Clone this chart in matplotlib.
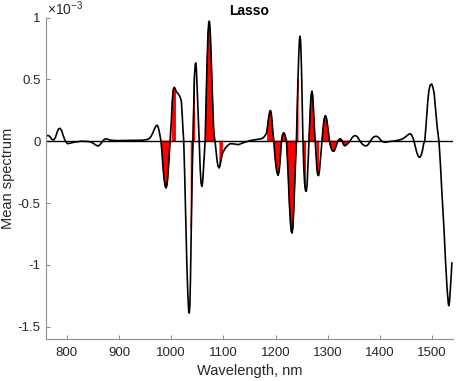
import numpy as np
import matplotlib
matplotlib.use('Agg')
import matplotlib.pyplot as plt

# wavelengths (nm) and mean spectrum (x 1e-3)
wavelength = [762, 765, 768, 771, 775, 778, 781, 784, 787, 790, 793, 797, 800, 802, 807, 812,
              820, 827, 838, 845, 850, 855, 860, 864, 867, 870, 874, 878, 882, 890, 897, 915,
              935, 945, 952, 957, 960, 964, 968, 971, 973, 975, 977, 979, 980.5, 982.5, 984.5,
              986.5, 988.5, 990, 991.5, 993, 994.5, 996, 998, 1000, 1002, 1004, 1006, 1008,
              1010, 1013, 1015.5, 1018, 1019.5, 1021, 1022.5, 1024, 1026, 1028, 1030, 1032,
              1033.5, 1034.6, 1035.8, 1037, 1038.5, 1040, 1041.6, 1043, 1044.5, 1046, 1047,
              1048.3, 1050, 1052, 1053.7, 1055.5, 1057.3, 1058.8, 1060.3, 1062, 1063.5, 1065,
              1066.5, 1068.5, 1070.5, 1072, 1072.7, 1073.5, 1075, 1077, 1079, 1081, 1082.5,
              1084, 1086, 1088, 1090, 1091.8, 1093.5, 1095.5, 1098, 1101, 1104, 1108, 1113,
              1120, 1128.6, 1140, 1151, 1165, 1173, 1177, 1180, 1182.8, 1185, 1187, 1189,
              1190.4, 1192, 1193.5, 1195, 1196.7, 1198.5, 1200.5, 1202.5, 1205, 1207, 1208.5,
              1210, 1211.4, 1213, 1214.8, 1216.4, 1218, 1219.5, 1221, 1222.5, 1224.5, 1226.5,
              1228.5, 1230.2, 1231.7, 1233.2, 1235, 1236.7, 1238.5, 1240, 1241.5, 1243, 1244.7,
              1246, 1247, 1248.2, 1249.7, 1251.2, 1252.6, 1254, 1255.7, 1257.5, 1259, 1260.5,
              1262, 1263, 1264, 1265.5, 1267, 1268.5, 1269.8, 1271.2, 1272.7, 1274.3, 1276,
              1277.5, 1279.2, 1280.8, 1282.5, 1284.2, 1286, 1287.5, 1289, 1290.8, 1292.5,
              1294.3, 1296, 1298, 1300, 1301.8, 1303.5, 1305.5, 1307.5, 1309.5, 1311.7, 1314,
              1316, 1318, 1320, 1322, 1324.5, 1326.5, 1328, 1330, 1332, 1334.5, 1337, 1341.7,
              1344, 1347, 1350, 1354, 1357, 1360, 1363, 1366, 1370, 1374.5, 1378, 1381, 1384,
              1387, 1390, 1393.8, 1397, 1400, 1403, 1406, 1410, 1414, 1418, 1424, 1432, 1440,
              1445, 1450, 1454, 1458, 1461, 1463.5, 1465.5, 1468, 1471, 1474, 1477, 1479.5,
              1482, 1484, 1486, 1488, 1490, 1492, 1494, 1496.5, 1499.4, 1502, 1504, 1507,
              1510, 1513.3, 1516, 1519, 1523, 1526, 1529, 1531, 1532, 1533.5, 1535, 1537, 1538]
mean_spectrum = [0.045, 0.045, 0.035, 0.015, 0.01, 0.03, 0.07, 0.1, 0.104, 0.085, 0.045, 0.0,
                 -0.015, -0.02, -0.015, -0.01, -0.005, 0.0, -0.002, -0.005, -0.015, -0.03,
                 -0.04, -0.025, -0.01, 0.008, 0.02, 0.016, 0.01, 0.006, 0.005, 0.006, 0.007,
                 0.008, 0.012, 0.018, 0.03, 0.06, 0.1, 0.125, 0.129, 0.115, 0.08, 0.035, 0.0,
                 -0.1, -0.22, -0.31, -0.365, -0.378, -0.36, -0.31, -0.23, -0.13, 0.0, 0.15,
                 0.32, 0.42, 0.436, 0.42, 0.40, 0.385, 0.37, 0.345, 0.32, 0.22, 0.1, 0.0, -0.3,
                 -0.65, -1.0, -1.25, -1.37, -1.39, -1.33, -1.1, -0.7, -0.3, 0.0, 0.3, 0.52,
                 0.62, 0.633, 0.58, 0.4, 0.18, 0.0, -0.22, -0.34, -0.365, -0.33, -0.22, -0.11,
                 0.0, 0.25, 0.6, 0.87, 0.96, 0.97, 0.96, 0.87, 0.62, 0.35, 0.13, 0.04, 0.0,
                 -0.08, -0.16, -0.205, -0.216, -0.2, -0.15, -0.1, -0.075, -0.055, -0.035,
                 -0.02, -0.022, -0.028, -0.01, 0.005, 0.015, 0.02, 0.03, 0.045, 0.067, 0.13,
                 0.2, 0.24, 0.248, 0.22, 0.15, 0.07, 0.0, -0.1, -0.19, -0.25, -0.276, -0.24,
                 -0.17, -0.08, 0.0, 0.045, 0.065, 0.067, 0.05, 0.025, 0.0, -0.12, -0.3, -0.5,
                 -0.65, -0.73, -0.742, -0.7, -0.55, -0.35, -0.15, 0.0, 0.25, 0.5, 0.72, 0.83,
                 0.849, 0.8, 0.6, 0.3, 0.0, -0.2, -0.34, -0.4, -0.405, -0.35, -0.22, -0.12,
                 0.0, 0.15, 0.3, 0.38, 0.404, 0.37, 0.26, 0.12, 0.0, -0.11, -0.22, -0.27,
                 -0.278, -0.24, -0.15, -0.07, 0.0, 0.09, 0.16, 0.2, 0.207, 0.18, 0.12, 0.06,
                 0.0, -0.04, -0.068, -0.08, -0.082, -0.065, -0.04, -0.015, 0.005, 0.015, 0.019,
                 0.012, 0.0, -0.025, -0.036, -0.035, -0.025, -0.005, 0.01, 0.03, 0.042, 0.045,
                 0.035, 0.015, -0.005, -0.022, -0.035, -0.038, -0.025, -0.005, 0.015, 0.03,
                 0.038, 0.04, 0.032, 0.018, 0.004, -0.005, -0.009, -0.006, -0.003, 0.0, 0.005,
                 0.013, 0.022, 0.038, 0.052, 0.061, 0.05, 0.025, 0.0, -0.045, -0.095, -0.125,
                 -0.13, -0.11, -0.07, -0.02, 0.0, 0.1, 0.22, 0.33, 0.41, 0.455, 0.463, 0.43,
                 0.39, 0.25, 0.11, 0.0, -0.18, -0.42, -0.715, -0.98, -1.2, -1.3, -1.33, -1.3,
                 -1.2, -1.07, -0.985]

# wavelength bands picked by the lasso (start, end) in nm
selected_bands = [(980.5, 998), (1002, 1008), (1038.5, 1041.6), (1041.6, 1044.5),
                  (1066.5, 1081), (1093.5, 1098), (1185, 1195), (1196.7, 1211.4),
                  (1211.4, 1221), (1221, 1240), (1240, 1243), (1255.7, 1257.5),
                  (1264, 1274.3), (1279.2, 1282.5), (1289, 1303.5), (1303.5, 1320),
                  (1320, 1341.7)]

plt.rcParams['font.family'] = ['Liberation Sans', 'DejaVu Sans']
plt.rcParams['axes.unicode_minus'] = False
plt.rcParams['mathtext.fontset'] = 'custom'
plt.rcParams['mathtext.rm'] = 'Liberation Sans'

wl = np.array(wavelength)
spec = np.array(mean_spectrum)
mask = np.zeros(len(wl), dtype=bool)
for lo, hi in selected_bands:
    mask |= (wl >= lo) & (wl <= hi)

fig = plt.figure(figsize=(4.57, 3.81), dpi=100)
ax = fig.add_axes([0.1007, 0.110, 0.8903, 0.844])

ax.fill_between(wl, spec, 0, where=mask, color='red', linewidth=0.8, edgecolor='red')
ax.plot(wl, spec, color='black', linewidth=1.2)
ax.axhline(0, color='black', linewidth=1.0)

ax.set_xlim(760, 1540)
ax.set_ylim(-1.6, 1.0)
ax.set_xticks(range(800, 1501, 100))
ax.set_yticks([-1.5, -1, -0.5, 0, 0.5, 1])
ax.set_yticklabels(['-1.5', '-1', '-0.5', '0', '0.5', '1'])
for s in ['top', 'right']:
    ax.spines[s].set_visible(False)
for s in ['left', 'bottom']:
    ax.spines[s].set_color('#8f8f8f')
    ax.spines[s].set_linewidth(0.8)
ax.tick_params(direction='in', length=3, width=0.8, color='#8f8f8f',
               labelsize=9.5, labelcolor='#262626')
ax.tick_params(axis='x', pad=6)
ax.tick_params(axis='y', pad=4)

ax.set_xlabel('Wavelength, nm', fontsize=10.5, color='#262626', labelpad=3)
ax.set_ylabel('Mean spectrum', fontsize=10.5, color='#262626', labelpad=2)
ax.set_title('Lasso', fontsize=10, fontweight='bold', pad=2)
ax.text(0.002, 1.0, r'$\times$10$^{-3}$', transform=ax.transAxes, fontsize=10,
        color='#262626', ha='left', va='bottom')

plt.savefig('out.png', dpi=100)
plt.close()
